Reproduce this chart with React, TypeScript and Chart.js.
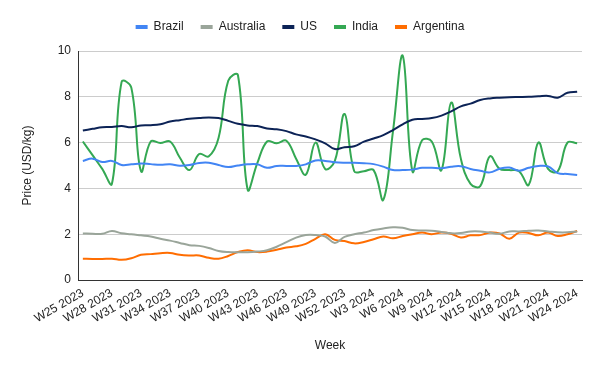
import React, { useEffect, useRef } from 'react';
import { Chart, registerables } from 'chart.js';

Chart.register(...registerables);

const weeks = [
  'W25 2023', 'W26 2023', 'W27 2023', 'W28 2023', 'W29 2023', 'W30 2023', 'W31 2023',
  'W32 2023', 'W33 2023', 'W34 2023', 'W35 2023', 'W36 2023', 'W37 2023', 'W38 2023',
  'W39 2023', 'W40 2023', 'W41 2023', 'W42 2023', 'W43 2023', 'W44 2023', 'W45 2023',
  'W46 2023', 'W47 2023', 'W48 2023', 'W49 2023', 'W50 2023', 'W51 2023', 'W52 2023',
  'W1 2024', 'W2 2024', 'W3 2024', 'W4 2024', 'W5 2024', 'W6 2024', 'W7 2024',
  'W8 2024', 'W9 2024', 'W10 2024', 'W11 2024', 'W12 2024', 'W13 2024', 'W14 2024',
  'W15 2024', 'W16 2024', 'W17 2024', 'W18 2024', 'W19 2024', 'W20 2024', 'W21 2024',
  'W22 2024', 'W23 2024', 'W24 2024',
];

const brazil = [
  5.2, 5.3, 5.15, 5.2, 5.02, 5.05, 5.09, 5.06, 5.03, 5.05,
  4.99, 5.02, 5.11, 5.12, 5.02, 4.93, 5.0, 5.05, 5.05, 4.9,
  4.98, 4.98, 4.98, 5.05, 5.22, 5.2, 5.14, 5.12, 5.12, 5.1,
  5.06, 4.95, 4.8, 4.8, 4.82, 4.9, 4.9, 4.88, 4.95, 4.97,
  4.85, 4.77, 4.7, 4.86, 4.91, 4.77, 4.9, 4.98, 4.96, 4.67,
  4.63, 4.59,
];

const australia = [
  2.03, 2.02, 2.02, 2.14, 2.04, 2.0, 1.95, 1.9, 1.8, 1.72,
  1.62, 1.52, 1.49, 1.4, 1.27, 1.22, 1.21, 1.21, 1.24, 1.3,
  1.45, 1.65, 1.85, 1.96, 1.96, 1.9, 1.62, 1.88, 2.0, 2.07,
  2.18, 2.25, 2.3, 2.28, 2.18, 2.16, 2.15, 2.1, 2.04, 2.05,
  2.12, 2.12, 2.07, 2.02, 2.12, 2.12, 2.15, 2.16, 2.12, 2.08,
  2.08, 2.12,
];

const us = [
  6.53, 6.6, 6.67, 6.68, 6.72, 6.67, 6.75, 6.76, 6.8, 6.92,
  6.98, 7.04, 7.07, 7.1, 7.07, 6.95, 6.82, 6.75, 6.72, 6.62,
  6.58, 6.5, 6.36, 6.27, 6.14, 5.97, 5.72, 5.8, 5.84, 6.04,
  6.18, 6.33, 6.55, 6.8, 7.0, 7.03, 7.07, 7.18, 7.36, 7.58,
  7.7, 7.86, 7.93, 7.96, 7.98, 7.99, 8.0, 8.02, 8.04, 7.96,
  8.18, 8.22,
];

const india = [
  6.05, 5.45, 4.85, 4.2, 8.65, 8.4, 4.75, 6.05, 5.98, 6.05,
  5.35, 4.8, 5.5, 5.4, 6.2, 8.7, 8.95, 3.95, 5.1, 6.05,
  5.97, 6.08, 5.3, 4.6, 6.0, 4.85, 5.2, 7.25, 4.75, 4.75,
  4.8, 3.5, 6.5, 9.8, 4.75, 6.1, 6.05, 4.8, 7.75, 5.3,
  4.2, 4.1, 5.4, 4.85, 4.8, 4.75, 4.15, 6.0, 4.85, 4.75,
  6.0, 5.97,
];

const argentina = [
  0.93, 0.92, 0.92, 0.93, 0.88, 0.95, 1.1, 1.13, 1.17, 1.18,
  1.1, 1.07, 1.07, 0.97, 0.93, 1.05, 1.22, 1.3, 1.22, 1.24,
  1.32, 1.42, 1.47, 1.58, 1.8, 2.0, 1.75, 1.7, 1.6, 1.66,
  1.78, 1.9, 1.82, 1.92, 2.0, 2.07, 2.0, 2.07, 2.02, 1.86,
  1.95, 1.96, 2.07, 2.03, 1.8, 2.07, 2.05, 1.95, 2.07, 1.92,
  2.0, 2.14,
];

const yTicks = [0, 2, 4, 6, 8, 10];

const FONT = "'Liberation Sans', Arial, Helvetica, sans-serif";
const TEXT = '#222222';

export default function App() {
  const ref = useRef<HTMLCanvasElement>(null);

  useEffect(() => {
    document.body.style.margin = '0';
    const canvas = ref.current;
    if (!canvas) return;

    const legendSpacing = {
      id: 'legendSpacing',
      beforeInit(chart: any) {
        const origFit = chart.legend.fit;
        chart.legend.fit = function fit() {
          origFit.call(this);
          this.height += 8;
        };
      },
    };

    const mk = (label: string, data: number[], color: string) => ({
      label,
      data,
      borderColor: color,
      backgroundColor: color,
      borderWidth: 2,
      pointRadius: 0,
      pointHoverRadius: 0,
      tension: 0.4,
      fill: false,
    });

    const font = { family: FONT, size: 12 };

    const chart = new Chart(canvas, {
      type: 'line',
      data: {
        labels: weeks,
        datasets: [
          mk('Brazil', brazil, '#4285f4'),
          mk('Australia', australia, '#9aa59a'),
          mk('US', us, '#0c2356'),
          mk('India', india, '#34a853'),
          mk('Argentina', argentina, '#ff6d01'),
        ],
      },
      options: {
        responsive: false,
        animation: false,
        devicePixelRatio: 1,
        layout: { padding: { top: 4, left: 18, right: 18, bottom: 0 } },
        plugins: {
          legend: {
            position: 'top',
            align: 'center',
            labels: {
              boxWidth: 12,
              boxHeight: 4,
              padding: 17,
              color: TEXT,
              font,
              generateLabels: (c: any) =>
                (Chart.defaults.plugins.legend.labels as any)
                  .generateLabels(c)
                  .map((it: any) => ({ ...it, lineWidth: 0 })),
            },
          },
          tooltip: { enabled: false },
        },
        scales: {
          x: {
            offset: true,
            grid: { display: true, color: 'rgba(0,0,0,0)', drawTicks: false },
            border: { display: true, color: '#333333', width: 1 },
            ticks: {
              autoSkip: false,
              minRotation: 30,
              maxRotation: 30,
              padding: 6,
              color: TEXT,
              font,
              callback: (_v: any, i: number) => (i % 3 === 0 ? weeks[i] : ''),
            },
            title: {
              display: true,
              text: 'Week',
              color: TEXT,
              font,
              padding: { top: 4, bottom: 18 },
            },
            afterFit: (s: any) => {
              s.height = 91;
            },
          },
          y: {
            min: 0,
            max: 10,
            afterBuildTicks: (s: any) => {
              s.ticks = yTicks.map((v) => ({ value: v }));
            },
            ticks: { padding: 7, color: TEXT, font },
            grid: {
              drawTicks: false,
              color: (ctx: any) => (ctx.tick && ctx.tick.value === 0 ? 'rgba(0,0,0,0)' : '#cccccc'),
            },
            border: { display: true, color: '#333333', width: 1 },
            title: {
              display: true,
              text: 'Price (USD/kg)',
              color: TEXT,
              font,
              padding: { top: 2, bottom: 0 },
            },
            afterFit: (s: any) => {
              s.width = 60;
            },
          },
        },
      } as any,
      plugins: [legendSpacing],
    });

    return () => chart.destroy();
  }, []);

  return <canvas ref={ref} width={600} height={371} style={{ display: 'block' }} />;
}
